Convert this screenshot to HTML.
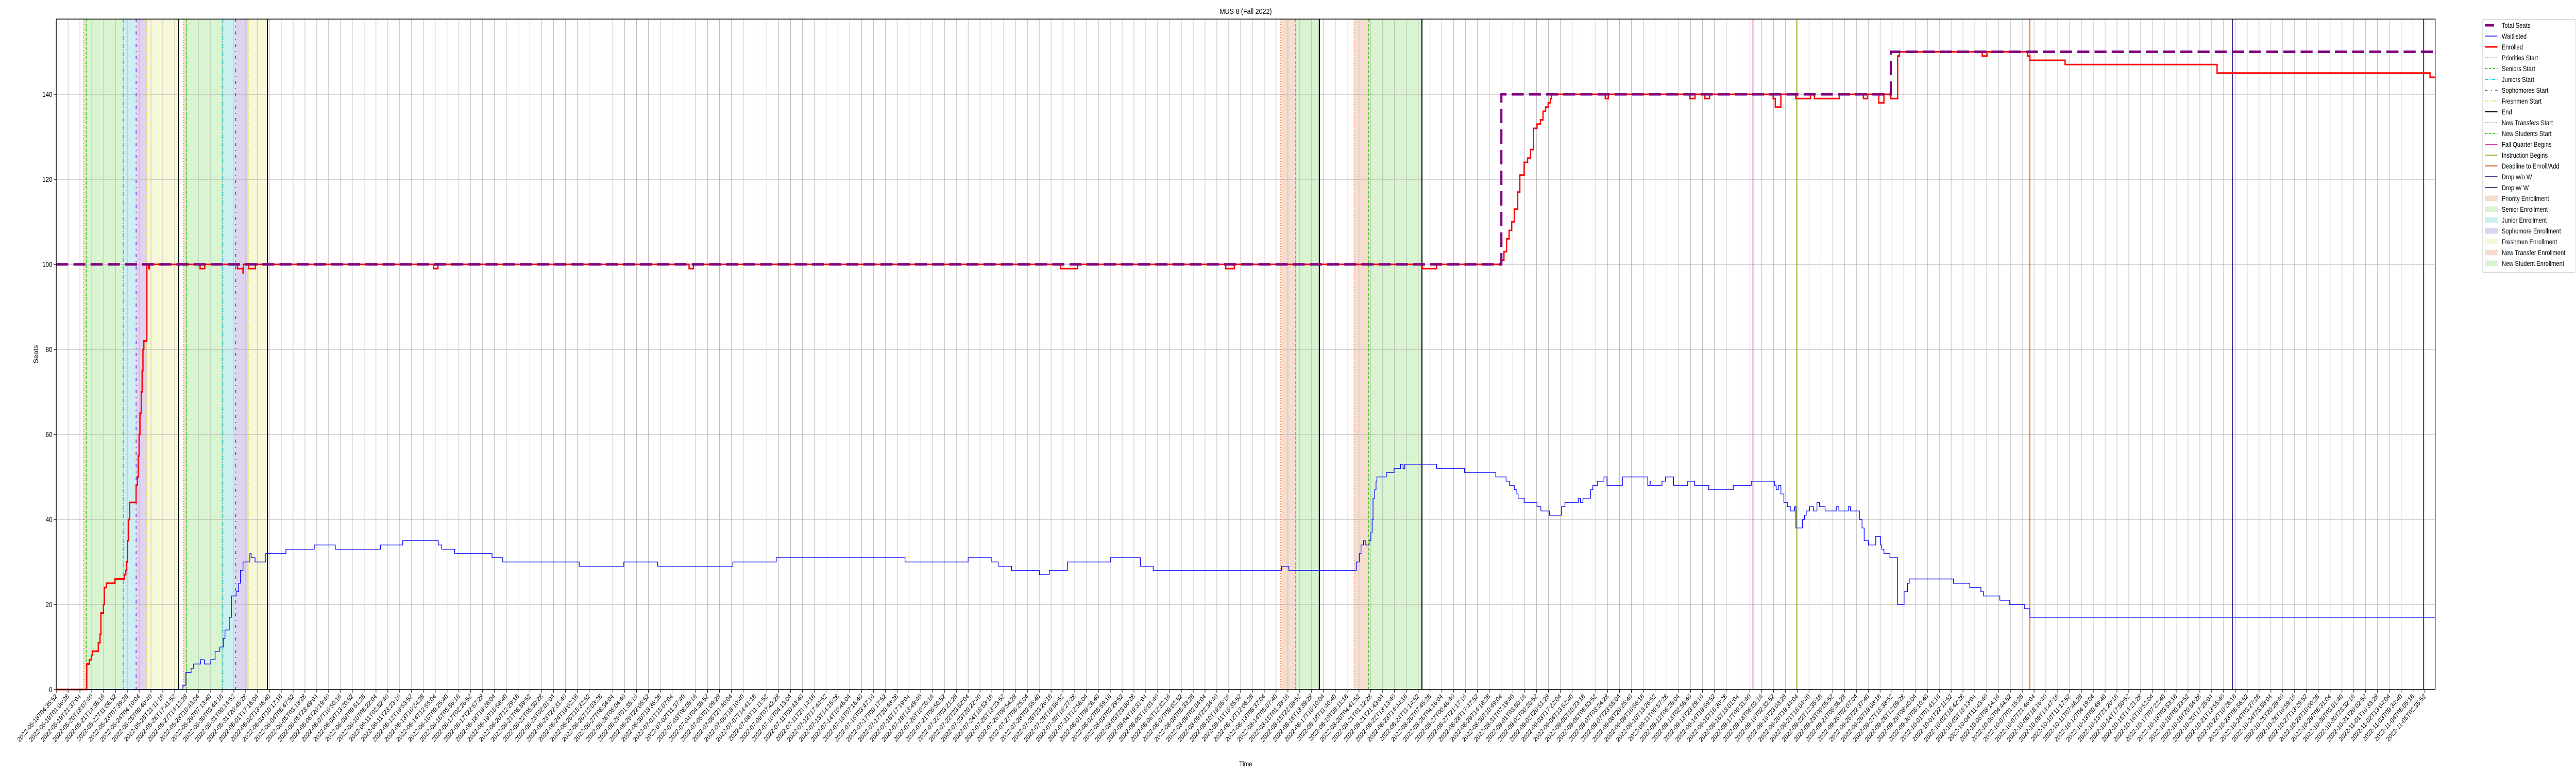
<!DOCTYPE html>
<html><head><meta charset="utf-8"><title>MUS 8 (Fall 2022)</title>
<style>
html,body{margin:0;padding:0;background:#fff;overflow:hidden;width:100%;height:100%;}
svg{display:block;font-family:"Liberation Sans","DejaVu Sans",sans-serif;width:100vw;height:100vh;}
</style></head>
<body>
<svg id="chart" viewBox="0 0 6000 1500" preserveAspectRatio="none" xmlns="http://www.w3.org/2000/svg">
<rect x="0" y="0" width="6000" height="1500" fill="#fff"/>
<g id="bands"></g><g id="grid"></g><g id="vlines"></g><g id="series"></g><g id="axes"></g><g id="legend"></g>
</svg>
<script>
// ---------- data ----------
const seatsX = [0, 3366, 4273];
const seatsY = [100, 140, 150];

const enrolledX = [0,71,77,82,84,98,102,104,110,112,117,137,159,162,164,166,168,171,186,189,191,193,195,198,200,202,204,211,215,217,335,346,422,435,436,448,464,879,889,1474,1484,2339,2379,2724,2744,3182,3215,3366,3372,3378,3384,3390,3396,3404,3409,3419,3427,3434,3441,3449,3457,3463,3469,3475,3480,3483,3608,3615,3805,3817,3840,3851,3999,4004,4017,4052,4086,4095,4153,4209,4219,4245,4257,4273,4289,4293,4486,4497,4592,4597,4679,5033,5529];
const enrolledY = [0,6,7,8,9,11,13,18,20,24,25,26,27,28,30,35,40,44,48,50,55,60,65,70,75,80,82,100,99,100,99,100,99,98,100,99,100,99,100,99,100,99,100,99,100,99,100,101,103,106,108,110,113,117,121,124,125,127,132,133,134,136,137,138,139,140,139,140,139,140,139,140,139,137,140,139,140,139,140,139,140,138,140,139,149,150,149,150,149,148,147,145,144];

const waitX = [0,295,302,314,320,336,345,360,370,381,389,393,403,408,419,425,429,435,451,454,463,488,535,601,650,755,807,890,898,928,1015,1040,1218,1322,1401,1576,1677,1977,2124,2179,2194,2225,2290,2313,2355,2456,2525,2555,2854,2871,3028,3035,3039,3045,3049,3058,3062,3065,3067,3071,3074,3076,3098,3116,3131,3137,3141,3215,3280,3353,3377,3385,3396,3402,3405,3419,3449,3458,3478,3506,3514,3545,3550,3556,3574,3579,3590,3605,3612,3648,3707,3712,3714,3740,3748,3767,3800,3816,3849,3906,3948,4002,4006,4011,4017,4024,4032,4039,4049,4052,4067,4072,4076,4084,4093,4101,4107,4120,4146,4152,4174,4179,4200,4206,4211,4221,4238,4249,4252,4257,4271,4289,4304,4312,4316,4419,4457,4483,4489,4527,4550,4584,4597];
const waitY = [0,1,4,5,6,7,6,7,9,10,12,14,17,22,23,25,28,30,32,31,30,32,33,34,33,34,35,34,33,32,31,30,29,30,29,30,31,30,31,30,29,28,27,28,30,31,29,28,29,28,30,32,34,35,34,35,37,40,45,47,49,50,51,52,53,52,53,52,51,50,49,48,47,46,45,44,43,42,41,43,44,45,44,45,47,48,49,50,48,50,48,49,48,49,50,48,49,48,47,48,49,48,47,48,46,44,43,42,43,38,40,41,42,43,42,44,43,42,43,42,43,42,40,38,35,34,36,34,33,32,31,20,23,25,26,25,24,23,22,21,20,19,17];

// event markers (snapshot index)
const prioritiesStart = [64, 297];
const seniorsStart = [70, 303];
const juniorsStart = [156, 388];
const sophomoresStart = [186, 418];
const freshmenStart = [211, 447];
const endMarks = [285, 492, 2942, 3181];
const newTransfersStart = [2852, 3023];
const newStudentsStart = [2887, 3057];
const fallQuarterBegins = [3952];
const instructionBegins = [4054];
const deadlineEnroll = [4597];
const dropNoW = [5069];
const dropW = [5514];

const yTicks = [0,20,40,60,80,100,120,140];
const tickCount = 201;
const tickStartMs = Date.UTC(2022,4,18,4,35,52);
const tickStepMs = 73836000;
const tickLabels = [];
for (let k = 0; k < tickCount; k++) {
  tickLabels.push(new Date(tickStartMs + k*tickStepMs).toISOString().slice(0,19));
}

// ---------- axes ----------
const L = 131, R = 5672, T = 37, B = 1338;
const XMAX = 5541, YMAX = (B - T) / 8.25;
const tickIdxStep = 5517 / 200;
function xs(i){ return L + i / XMAX * (R - L); }
function ys(v){ return B - v * (B - T) / YMAX; }

const NS = "http://www.w3.org/2000/svg";
function mk(tag, attrs, parent){
  const e = document.createElementNS(NS, tag);
  for (const k in attrs) e.setAttribute(k, attrs[k]);
  parent.appendChild(e);
  return e;
}
const gB = document.getElementById('bands'), gG = document.getElementById('grid'),
      gV = document.getElementById('vlines'), gS = document.getElementById('series'),
      gA = document.getElementById('axes'), gL = document.getElementById('legend');

// bands
function band(a, b, color, name){
  const r = mk('rect', {x: xs(a), y: T, width: xs(b)-xs(a), height: B-T, fill: color}, gB);
  
  
}
for (let k=0;k<2;k++){
  band(prioritiesStart[k], seniorsStart[k], '#f6ddd0', 'priority-enrollment-band');
  band(seniorsStart[k], juniorsStart[k], '#d9f4d0', 'senior-enrollment-band');
  band(juniorsStart[k], sophomoresStart[k], '#cdeff2', 'junior-enrollment-band');
  band(sophomoresStart[k], freshmenStart[k], '#e0d3f2', 'sophomore-enrollment-band');
  band(freshmenStart[k], endMarks[k], '#f7f8d8', 'freshmen-enrollment-band');
  band(newTransfersStart[k], newStudentsStart[k], '#f6ddd0', 'new-transfer-enrollment-band');
  band(newStudentsStart[k], endMarks[k+2], '#d9f4d0', 'new-student-enrollment-band');
}

// grid
for (let k=0;k<tickCount;k++){
  const x = xs(k*tickIdxStep);
  const l = mk('line', {x1:x, x2:x, y1:T, y2:B, stroke:'#b0b0b0', 'stroke-width':1}, gG);
  
  
}
for (const v of yTicks){
  const y = ys(v);
  const l = mk('line', {x1:L, x2:R, y1:y, y2:y, stroke:'#b0b0b0', 'stroke-width':1}, gG);
  
  
}

// vertical event lines
function vl(arr, color, width, dash, name){
  for (const i of arr){
    const x = xs(i);
    const a = {x1:x, x2:x, y1:T, y2:B, stroke:color, 'stroke-width':width};
    if (dash) a['stroke-dasharray'] = dash;
    const l = mk('line', a, gV);
    
    
  }
}
vl(prioritiesStart, '#ff6a2a', 1.6, '2,3', 'priorities-start-line');
vl(seniorsStart, '#33cc11', 1.8, '6,3', 'seniors-start-line');
vl(juniorsStart, '#00c8d8', 1.8, '8,3,2,3', 'juniors-start-line');
vl(sophomoresStart, '#6a1ed6', 1.8, '6,8,2,8', 'sophomores-start-line');
vl(freshmenStart, '#dddd22', 1.8, '8,2,2,2,2,2', 'freshmen-start-line');
vl(endMarks, '#000000', 2.5, null, 'end-line');
vl(newTransfersStart, '#ff6a2a', 1.6, '2,3', 'new-transfers-start-line');
vl(newStudentsStart, '#33cc11', 1.8, '6,3', 'new-students-start-line');
vl(fallQuarterBegins, '#e020a0', 1.8, null, 'fall-quarter-begins-line');
vl(instructionBegins, '#88aa11', 1.8, null, 'instruction-begins-line');
vl(deadlineEnroll, '#dd4411', 1.8, null, 'deadline-enroll-line');
vl(dropNoW, '#2a1e8a', 1.8, null, 'drop-without-w-line');
vl(dropW, '#2a3858', 2, null, 'drop-with-w-line');

// step series
function stepPath(X, Y){
  let d = 'M' + xs(X[0]) + ',' + ys(Y[0]);
  for (let k=1;k<X.length;k++){
    d += ' H' + xs(X[k]) + ' V' + ys(Y[k]);
  }
  d += ' H' + xs(XMAX);
  return d;
}
const pw = mk('path', {d: stepPath(waitX, waitY), fill:'none', stroke:'#0000ff', 'stroke-width':1.6}, gS);


const pe = mk('path', {d: stepPath(enrolledX, enrolledY), fill:'none', stroke:'#ff0000', 'stroke-width':3}, gS);


const ps = mk('path', {d: stepPath(seatsX, seatsY), fill:'none', stroke:'#800080', 'stroke-width':5, 'stroke-dasharray':'28,12'}, gS);



// axes frame
const fr = mk('rect', {x:L, y:T, width:R-L, height:B-T, fill:'none', stroke:'#000', 'stroke-width':1.5}, gA);


for (const v of yTicks){
  const y = ys(v);
  const t = mk('line', {x1:L-6, x2:L, y1:y, y2:y, stroke:'#000', 'stroke-width':1.2}, gA);
  
  
  const tx = mk('text', {x:L-9, y:y+5, 'text-anchor':'end', 'font-size':14, fill:'#000'}, gA);
  tx.textContent = String(v);
  
  
}
for (let k=0;k<tickCount;k++){
  const x = xs(k*tickIdxStep);
  const t = mk('line', {x1:x, x2:x, y1:B, y2:B+6, stroke:'#000', 'stroke-width':1.2}, gA);
  
  
  const tx = mk('text', {x:x+3, y:B+14, 'text-anchor':'end', 'font-size':13, fill:'#000', transform:'rotate(-45 '+(x+3)+' '+(B+14)+')'}, gA);
  tx.textContent = tickLabels[k];
  
  
}
const title = mk('text', {x:(L+R)/2, y:27, 'text-anchor':'middle', 'font-size':15, fill:'#000'}, gA);
title.textContent = 'MUS 8 (Fall 2022)';


const yl = mk('text', {x:88, y:(T+B)/2, 'text-anchor':'middle', 'font-size':14, fill:'#000', transform:'rotate(-90 88 '+((T+B)/2)+')'}, gA);
yl.textContent = 'Seats';


const xl = mk('text', {x:(L+R)/2, y:1487, 'text-anchor':'middle', 'font-size':14, fill:'#000'}, gA);
xl.textContent = 'Time';



// legend
const legendNames = ['Total Seats','Waitlisted','Enrolled','Priorities Start','Seniors Start','Juniors Start','Sophomores Start','Freshmen Start','End','New Transfers Start','New Students Start','Fall Quarter Begins','Instruction Begins','Deadline to Enroll/Add','Drop w/o W','Drop w/ W','Priority Enrollment','Senior Enrollment','Junior Enrollment','Sophomore Enrollment','Freshmen Enrollment','New Transfer Enrollment','New Student Enrollment'];
const legendStyles = [
 ['line','#800080',5,'20,0'],['line','#0000ff',1.6,null],['line','#ff0000',3,null],
 ['line','#ff6a2a',1.6,'2,3'],['line','#33cc11',1.8,'6,3'],['line','#00c8d8',1.8,'8,3,2,3'],
 ['line','#6a1ed6',1.8,'6,8,2,8'],['line','#dddd22',1.8,'8,2,2,2,2,2'],['line','#000',2,null],
 ['line','#ff6a2a',1.6,'2,3'],['line','#33cc11',1.8,'6,3'],['line','#e020a0',1.8,null],
 ['line','#88aa11',1.8,null],['line','#dd4411',1.8,null],['line','#2a1e8a',1.8,null],['line','#2a3858',1.8,null],
 ['rect','#f6ddd0'],['rect','#d9f4d0'],['rect','#cdeff2'],['rect','#e0d3f2'],['rect','#f7f8d8'],['rect','#f6ddd0'],['rect','#d9f4d0']];
const lgBox = mk('rect', {x:5782.5, y:37.5, width:216, height:legendNames.length*21+8, fill:'#fff', stroke:'#d0d0d0', 'stroke-width':1, rx:2}, gL);


legendNames.forEach((nm, k) => {
  const cy = 49 + k*21;
  const s = legendStyles[k];
  const g = mk('g', {}, gL);
  
  
  if (s[0]==='line'){
    const a = {x1:5788, x2:5817, y1:cy, y2:cy, stroke:s[1], 'stroke-width':s[2]};
    if (k===0){ a.x2 = 5809; }
    if (s[3] && k!==0) a['stroke-dasharray'] = s[3];
    mk('line', a, g);
  } else {
    mk('rect', {x:5788, y:cy-5, width:29, height:10, fill:s[1], stroke:s[1]}, g);
  }
  const t = mk('text', {x:5827, y:cy+5, 'font-size':13.5, fill:'#000'}, g);
  t.textContent = nm;
});
</script>
</body></html>
